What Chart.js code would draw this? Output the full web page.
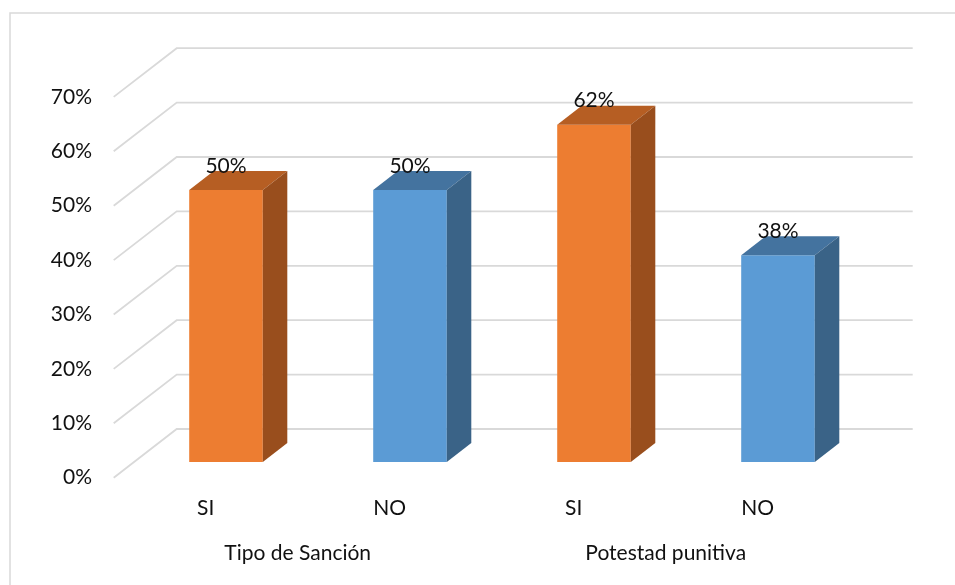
<!DOCTYPE html>
<html>
<head>
<meta charset="utf-8">
<script src="https://cdn.jsdelivr.net/npm/chart.js@4/dist/chart.umd.min.js"></script>
<style>
  html, body { margin: 0; padding: 0; background: #ffffff; }
  #wrap { width: 955px; height: 585px; }
</style>
</head>
<body>
<div id="wrap"><canvas id="chart" width="955" height="585"></canvas></div>
<script>
// Survey results: share of SI / NO answers for two questions
const categories = ['SI', 'NO', 'SI', 'NO'];
const groups = ['Tipo de Sanción', 'Potestad punitiva'];
const values = [50, 50, 62, 38];
const yTicks = [0, 10, 20, 30, 40, 50, 60, 70];

// Face colours of the 3D columns (front, top, side)
const palette = {
  front: ['#ED7D31', '#5B9BD5', '#ED7D31', '#5B9BD5'],
  top:   ['#B65E23', '#44739F', '#B65E23', '#44739F'],
  side:  ['#994E1D', '#3A6387', '#994E1D', '#3A6387'],
  grid: '#d9d9d9',
  text: '#111111'
};

// Oblique projection: offsets relative to the plane of the bar fronts
const BAR_DEPTH = { dx: 24.5, dy: -19 };     // thickness of each column
const WALL = { dx: 42.7, dy: -33 };          // back wall
const FLOOR_FRONT = { dx: -20.3, dy: 15.7 }; // front edge of the side wall

const FONT = { family: 'Lato', size: 21 };

const box3d = {
  id: 'box3d',
  beforeDraw(chart) {
    const ctx = chart.ctx;
    ctx.save();
    ctx.strokeStyle = palette.grid;
    ctx.lineWidth = 1.5;
    ctx.strokeRect(10, 13, 1200, 1200);
    ctx.restore();
  },
  beforeDatasetsDraw(chart) {
    const { ctx, chartArea: { left, right }, scales: { y } } = chart;
    ctx.save();
    ctx.strokeStyle = palette.grid;
    ctx.lineWidth = 1.8;
    yTicks.forEach(v => {
      const py = y.getPixelForValue(v);
      ctx.beginPath();
      ctx.moveTo(left + FLOOR_FRONT.dx, py + FLOOR_FRONT.dy);
      ctx.lineTo(left + WALL.dx, py + WALL.dy);
      ctx.lineTo(right + WALL.dx, py + WALL.dy);
      ctx.stroke();
    });
    ctx.restore();
  },
  afterDatasetsDraw(chart) {
    const ctx = chart.ctx;
    const meta = chart.getDatasetMeta(0);
    ctx.save();
    meta.data.forEach((bar, i) => {
      const { x, y, base, width } = bar.getProps(['x', 'y', 'base', 'width'], true);
      const l = x - width / 2, r = x + width / 2;
      const { dx, dy } = BAR_DEPTH;
      // top face
      ctx.fillStyle = palette.top[i];
      ctx.beginPath();
      ctx.moveTo(l, y);
      ctx.lineTo(l + dx, y + dy);
      ctx.lineTo(r + dx, y + dy);
      ctx.lineTo(r, y);
      ctx.closePath();
      ctx.fill();
      // right side face
      ctx.fillStyle = palette.side[i];
      ctx.beginPath();
      ctx.moveTo(r, y);
      ctx.lineTo(r + dx, y + dy);
      ctx.lineTo(r + dx, base + dy);
      ctx.lineTo(r, base);
      ctx.closePath();
      ctx.fill();
      // value label
      ctx.fillStyle = palette.text;
      ctx.font = `${FONT.size}px ${FONT.family}`;
      ctx.textAlign = 'center';
      ctx.textBaseline = 'middle';
      ctx.fillText(values[i] + '%', x, y - 24);
    });
    ctx.restore();
  }
};

new Chart(document.getElementById('chart'), {
  type: 'bar',
  data: {
    labels: categories,
    datasets: [{
      data: values,
      backgroundColor: palette.front,
      borderWidth: 0,
      barPercentage: 0.4,
      categoryPercentage: 1
    }]
  },
  options: {
    responsive: false,
    animation: false,
    layout: { padding: { left: 0, right: 85, top: 81.2, bottom: 8 } },
    plugins: { legend: { display: false }, tooltip: { enabled: false } },
    scales: {
      x: {
        type: 'category',
        offset: true,
        weight: 0,
        grid: { display: false, drawTicks: false },
        border: { display: false },
        ticks: { color: palette.text, font: FONT, padding: 34, labelOffset: FLOOR_FRONT.dx, maxRotation: 0 },
        afterFit(s) { s.height = 70; }
      },
      xg: {
        type: 'category',
        labels: groups,
        position: 'bottom',
        offset: true,
        weight: 1,
        grid: { display: false, drawTicks: false },
        border: { display: false },
        ticks: { color: palette.text, font: FONT, padding: 9, labelOffset: FLOOR_FRONT.dx, maxRotation: 0 },
        afterFit(s) { s.height = 45; }
      },
      y: {
        min: 0,
        max: 70,
        grid: { display: false, drawTicks: false },
        border: { display: false },
        ticks: {
          stepSize: 10,
          color: palette.text,
          font: FONT,
          padding: 42,
          labelOffset: FLOOR_FRONT.dy,
          callback: v => v + '%'
        },
        afterFit(s) { s.width = 134; }
      }
    }
  },
  plugins: [box3d]
});
</script>
</body>
</html>
